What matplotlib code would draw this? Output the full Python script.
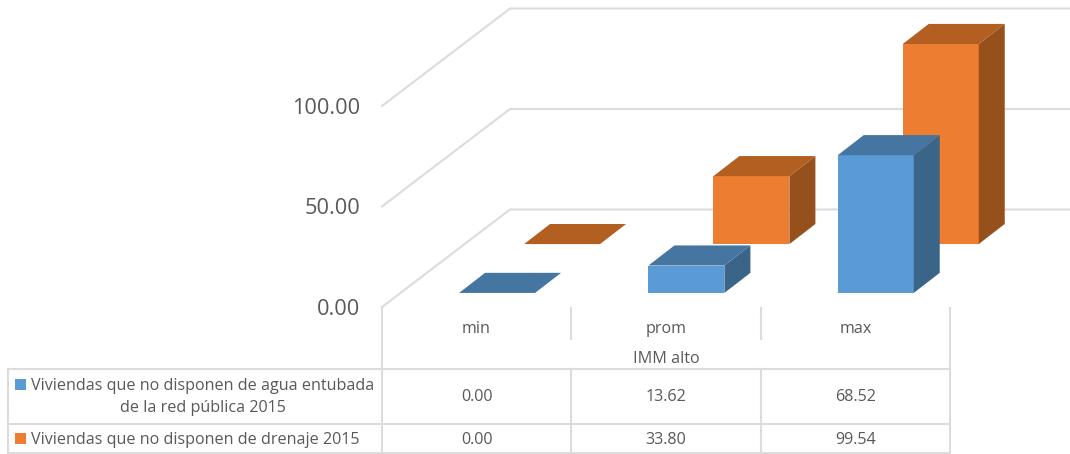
import matplotlib
matplotlib.use('Agg')
import matplotlib.pyplot as plt

categories = ['min', 'prom', 'max']
group_label = 'IMM alto'
agua = [0.00, 13.62, 68.52]
drenaje = [0.00, 33.80, 99.54]
agua_name = 'Viviendas que no disponen de agua entubada\nde la red pública 2015'
drenaje_name = 'Viviendas que no disponen de drenaje 2015'
y_ticks = [0, 50, 100]

GRID = '#dcdcdc'
TEXT = '#595959'
FS = 11.6
plt.rcParams['font.family'] = ['Open Sans', 'DejaVu Sans']

# depth of the fake 3d box, in data units of the main axes
WALL_DX, WALL_DY = 128 / 189.33, 97.5 / 2.01
BAR_W = 76 / 189.33
BAR_DX, BAR_DY = 26 / 189.33, 10.0


def box(ax, x, v, shift_x, shift_y, front, top, side):
    left = x + shift_x - BAR_W / 2
    right = left + BAR_W
    b = shift_y
    t = shift_y + v
    if v > 0:
        ax.bar(left, v, BAR_W, bottom=b, align='edge', color=front, clip_on=False, zorder=3)
        ax.fill([right, right + BAR_DX, right + BAR_DX, right],
                [b, b + BAR_DY, t + BAR_DY, t], color=side, lw=0, clip_on=False, zorder=3)
    ax.fill([left, right, right + BAR_DX, left + BAR_DX],
            [t, t, t + BAR_DY, t + BAR_DY], color=top, lw=0, clip_on=False, zorder=3)


fig = plt.figure(figsize=(10.7, 4.54), dpi=100)

# table, in pixel coordinates
tab = fig.add_axes([0, 0, 1, 1])
tab.set_xlim(0, 1070)
tab.set_ylim(454, 0)
tab.axis('off')
for y in [369, 424, 453]:
    tab.plot([8, 950], [y, y], color=GRID, lw=1.5)
for x in [8, 571, 761]:
    tab.plot([x, x], [369, 453], color=GRID, lw=1.5)
for x in [571, 761]:
    tab.plot([x, x], [308, 339], color=GRID, lw=1.5)
for x in [382, 950]:
    tab.plot([x, x], [308, 453], color=GRID, lw=1.5)
col_x = [476.5, 666, 855.5]
for i in range(3):
    tab.text(col_x[i], 329, categories[i], ha='center', va='center', color=TEXT, fontsize=FS)
    tab.text(col_x[i], 397, f'{agua[i]:.2f}', ha='center', va='center', color=TEXT, fontsize=FS)
    tab.text(col_x[i], 440, f'{drenaje[i]:.2f}', ha='center', va='center', color=TEXT, fontsize=FS)
tab.text(666, 359, group_label, ha='center', va='center', color=TEXT, fontsize=FS)
tab.text(203, 397, agua_name, ha='center', va='center', color=TEXT, fontsize=FS, linespacing=1.45)
tab.text(31, 440, drenaje_name, ha='left', va='center', color=TEXT, fontsize=FS)
tab.fill([15, 26, 26, 15], [379, 379, 390, 390], color='#5b9bd5', lw=0)
tab.fill([15, 26, 26, 15], [433, 433, 444, 444], color='#ed7d31', lw=0)

# main chart
ax = fig.add_axes([382 / 1070, (454 - 307) / 454, 568 / 1070, 201 / 454])
ax.patch.set_visible(False)
ax.set_xlim(-0.5, 2.5)
ax.set_ylim(0, 100)
for s in ax.spines.values():
    s.set_visible(False)
ax.set_xticks([])
ax.set_yticks(y_ticks)
ax.set_yticklabels([f'{v:.2f}' for v in y_ticks], fontsize=15.7, color=TEXT)
ax.tick_params(axis='y', length=0, pad=15.5)

for v in y_ticks:
    ax.plot([-0.5, -0.5 + WALL_DX, 3.14], [v, v + WALL_DY, v + WALL_DY],
            color=GRID, lw=1.5, clip_on=False, zorder=1)

for i in range(3):
    box(ax, i, drenaje[i], 85.4 / 189.33, 31.3, '#ed7d31', '#b45f22', '#96501c')
for i in range(3):
    box(ax, i, agua[i], 20.4 / 189.33, 7.0, '#5b9bd5', '#4575a1', '#3a6488')

fig.savefig('out.png', dpi=100)
